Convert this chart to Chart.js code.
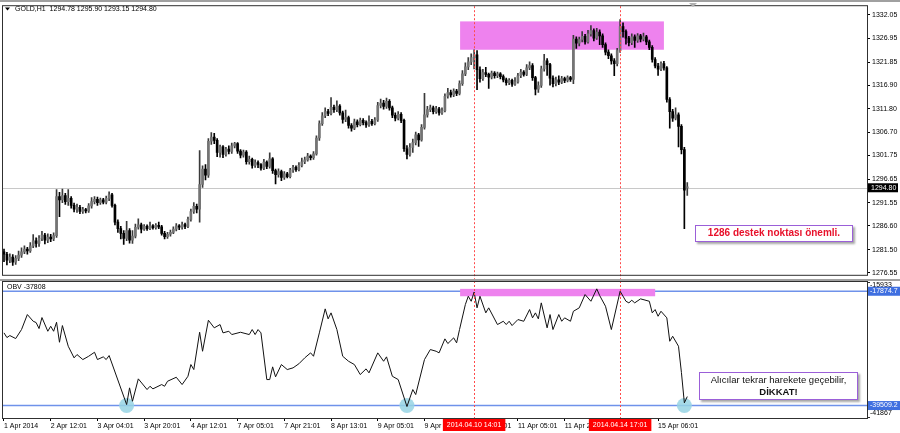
<!DOCTYPE html>
<html>
<head>
<meta charset="utf-8">
<script src="https://cdn.jsdelivr.net/npm/chart.js@4.4.1/dist/chart.umd.min.js"></script>
<style>
html, body { margin: 0; padding: 0; background: #fff; }
#wrap { position: relative; width: 900px; height: 433px; overflow: hidden; font-family: "Liberation Sans", Arial, sans-serif; }
#cTop { position: absolute; left: 0; top: 0; }
#cObv { position: absolute; left: 0; top: 281px; }
.note { position: absolute; box-sizing: border-box; background: #fff; border: 1.5px solid #9b5fd8; box-shadow: 2px 2px 2px rgba(0,0,0,0.35); text-align: center; }
#note1 { left: 695px; top: 225px; width: 158px; height: 17px; color: #e8102a; font-weight: bold; font-size: 10px; line-height: 14px; }
#note2 { left: 699px; top: 372px; width: 159px; height: 28px; color: #111; font-size: 9.5px; line-height: 11.5px; padding-top: 1px; }
#note2 b { font-size: 9.5px; }
</style>
</head>
<body>
<div id="wrap">
  <canvas id="cTop" width="900" height="281"></canvas>
  <canvas id="cObv" width="900" height="152"></canvas>
  <div class="note" id="note1">1286 destek noktası önemli.</div>
  <div class="note" id="note2">Alıcılar tekrar harekete geçebilir,<br><b>DİKKAT!</b></div>
</div>
<script>
// GOLD H1, 1 Apr 2014 - 15 Apr 2014
const opens = [
1281.0,1280.5,1279.2,1279.9,1278.8,1279.6,1280.3,1281.0,1281.6,1281.2,
1282.3,1283.4,1282.8,1283.9,1284.6,1283.5,1284.2,1283.8,1284.5,1292.9,
1292.2,1293.1,1291.8,1292.5,1291.0,1290.2,1290.6,1289.7,1290.1,1289.8,
1290.9,1291.8,1292.3,1291.6,1292.2,1291.7,1292.5,1293.3,1291.0,1287.4,
1286.0,1285.0,1283.9,1285.6,1283.5,1284.4,1286.3,1286.8,1285.9,1286.5,
1286.0,1286.6,1286.2,1286.7,1286.4,1285.0,1284.3,1284.8,1285.2,1285.9,
1286.6,1286.3,1286.9,1286.5,1288.0,1289.7,1290.8,1290.2,1295.5,1298.8,
1297.5,1304.8,1305.7,1305.0,1302.4,1303.6,1302.0,1303.1,1302.6,1303.8,
1304.3,1302.7,1301.8,1302.5,1300.4,1300.9,1299.6,1300.2,1299.8,1299.0,
1300.3,1299.4,1301.0,1298.5,1297.6,1298.3,1297.0,1297.8,1297.2,1298.6,
1299.2,1298.7,1299.6,1300.4,1300.8,1301.6,1301.3,1302.1,1305.5,1308.6,
1310.3,1311.2,1310.8,1312.1,1311.6,1312.4,1310.9,1309.5,1309.9,1308.2,
1307.6,1309.0,1308.4,1309.3,1308.8,1308.3,1309.1,1308.6,1309.4,1312.5,
1313.0,1312.3,1313.4,1312.0,1310.4,1309.8,1310.6,1309.3,1303.2,1302.0,
1303.5,1304.5,1306.2,1305.1,1307.8,1310.5,1311.6,1312.0,1311.2,1311.8,
1310.9,1311.4,1314.5,1315.3,1314.8,1315.6,1315.1,1317.2,1319.3,1320.8,
1321.9,1322.8,1323.4,1320.2,1318.3,1319.6,1319.2,1318.6,1319.5,1318.9,
1319.3,1318.7,1318.0,1317.4,1317.9,1317.1,1317.6,1318.9,1319.7,1319.2,
1320.6,1321.1,1318.5,1316.0,1316.8,1320.4,1322.1,1321.3,1318.4,1317.2,
1318.0,1317.5,1318.3,1317.9,1318.5,1318.1,1326.8,1325.9,1326.7,1327.4,
1326.2,1327.9,1328.6,1327.0,1328.3,1327.5,1325.6,1324.0,1323.2,1322.1,
1321.5,1324.3,1329.5,1328.4,1327.0,1326.0,1327.3,1326.5,1327.5,1326.8,
1327.3,1326.2,1325.0,1322.4,1321.0,1320.3,1321.5,1320.6,1313.8,1311.2,
1309.8,1310.5,1308.0,1303.0,1294.78
];
const highs = [
1281.6,1280.9,1280.6,1280.4,1280.2,1281.2,1281.9,1282.3,1282.0,1283.0,
1284.7,1284.0,1284.5,1285.4,1285.0,1284.9,1284.8,1285.1,1294.4,1293.8,
1294.5,1293.6,1294.4,1292.9,1291.5,1291.3,1291.0,1290.6,1290.4,1291.4,
1292.7,1292.9,1292.8,1292.6,1292.5,1293.0,1293.9,1293.6,1291.3,1287.9,
1286.5,1285.6,1287.6,1286.0,1285.6,1287.0,1288.1,1287.2,1286.9,1286.8,
1287.4,1286.9,1287.1,1287.4,1286.7,1285.4,1285.2,1285.7,1286.4,1287.1,
1286.9,1287.4,1287.2,1288.5,1290.2,1291.6,1291.3,1302.8,1299.5,1299.8,
1305.4,1306.7,1306.5,1305.4,1304.0,1303.9,1303.5,1303.8,1304.4,1304.6,
1304.5,1303.0,1302.9,1302.8,1301.6,1301.2,1300.8,1300.6,1300.0,1300.9,
1300.6,1302.3,1301.3,1298.8,1298.9,1298.6,1298.3,1298.1,1299.0,1299.6,
1299.5,1300.2,1301.2,1301.4,1302.2,1301.9,1302.6,1306.0,1309.2,1311.0,
1312.0,1311.7,1314.2,1312.6,1313.5,1312.7,1311.3,1311.5,1310.2,1308.6,
1309.6,1309.4,1309.8,1309.7,1309.2,1310.3,1309.5,1309.9,1313.2,1313.9,
1313.6,1314.1,1313.8,1312.4,1310.9,1311.2,1311.0,1309.6,1303.9,1304.3,
1305.3,1306.8,1306.5,1308.4,1315.1,1312.3,1312.6,1312.4,1312.3,1312.1,
1312.0,1315.0,1316.2,1315.8,1316.1,1316.0,1317.8,1320.0,1321.7,1322.8,
1323.6,1324.5,1324.3,1320.8,1320.3,1320.7,1319.5,1319.9,1319.8,1319.7,
1319.6,1319.1,1318.4,1318.3,1318.2,1318.5,1319.4,1320.3,1320.0,1321.3,
1321.9,1321.5,1318.8,1317.6,1321.0,1323.5,1322.6,1321.6,1318.9,1318.6,
1318.9,1318.8,1318.6,1318.9,1318.8,1327.6,1327.3,1327.2,1328.4,1327.8,
1328.7,1329.7,1329.0,1329.1,1328.8,1327.9,1326.0,1324.5,1323.6,1322.6,
1324.8,1331.0,1330.3,1328.8,1327.4,1327.9,1327.7,1328.0,1327.8,1328.1,
1327.6,1326.6,1325.4,1322.8,1321.6,1321.9,1322.0,1320.9,1314.2,1311.7,
1312.0,1310.9,1308.4,1303.5,1295.90
];
const lows = [
1278.9,1278.2,1278.7,1278.1,1278.3,1279.1,1279.8,1280.6,1280.5,1280.9,
1281.9,1282.0,1282.2,1283.4,1282.7,1283.0,1283.2,1283.4,1284.1,1288.6,
1291.6,1291.2,1291.0,1290.4,1289.6,1289.5,1289.2,1289.3,1289.4,1289.5,
1290.4,1291.3,1291.0,1291.2,1291.3,1291.3,1292.0,1290.6,1286.8,1285.2,
1283.8,1282.6,1283.4,1282.9,1282.8,1284.0,1285.9,1285.1,1285.6,1285.6,
1285.8,1285.9,1285.9,1286.0,1284.6,1283.8,1283.9,1284.4,1284.9,1285.5,
1285.8,1285.9,1286.0,1286.2,1287.6,1289.3,1289.4,1287.4,1294.9,1296.5,
1297.0,1304.1,1304.3,1301.5,1301.4,1301.3,1301.6,1302.1,1302.2,1303.4,
1302.2,1301.2,1301.4,1299.9,1299.9,1299.0,1299.2,1299.1,1298.6,1298.7,
1298.9,1299.0,1297.9,1295.6,1297.1,1296.3,1296.6,1296.9,1296.9,1298.1,
1298.3,1298.4,1299.3,1300.0,1300.5,1300.8,1300.9,1301.8,1305.0,1308.2,
1309.9,1310.3,1310.5,1311.0,1311.2,1310.4,1308.7,1309.0,1307.6,1307.0,
1307.3,1307.9,1308.1,1308.3,1307.8,1308.0,1308.2,1308.3,1309.1,1312.0,
1311.7,1311.9,1311.5,1309.9,1309.2,1309.4,1308.8,1302.6,1301.0,1301.6,
1302.4,1304.0,1303.7,1304.8,1307.4,1310.0,1311.2,1310.7,1310.8,1310.4,
1310.6,1311.1,1314.1,1314.3,1314.4,1314.6,1314.8,1316.8,1318.9,1320.2,
1321.3,1320.4,1315.9,1317.5,1317.9,1318.7,1316.2,1318.2,1318.4,1318.5,
1318.2,1317.6,1316.9,1317.0,1316.6,1316.8,1317.3,1318.5,1318.8,1318.9,
1320.2,1317.9,1314.8,1315.3,1316.4,1319.9,1319.0,1316.9,1316.5,1316.7,
1317.0,1317.2,1317.4,1317.6,1317.7,1317.2,1324.8,1325.3,1326.2,1325.7,
1325.9,1327.4,1326.4,1326.7,1325.6,1325.0,1323.4,1322.6,1321.4,1318.9,
1321.0,1323.9,1327.2,1325.7,1325.3,1325.6,1325.0,1326.1,1326.2,1326.4,
1325.6,1324.5,1321.8,1320.6,1319.0,1320.0,1320.1,1313.2,1307.6,1309.1,
1309.4,1303.6,1302.1,1286.0,1293.15
];
const closes = [
1280.5,1279.2,1279.9,1278.8,1279.6,1280.3,1281.0,1281.6,1281.2,1282.3,
1283.4,1282.8,1283.9,1284.6,1283.5,1284.2,1283.8,1284.5,1292.9,1292.2,
1293.1,1291.8,1292.5,1291.0,1290.2,1290.6,1289.7,1290.1,1289.8,1290.9,
1291.8,1292.3,1291.6,1292.2,1291.7,1292.5,1293.3,1291.0,1287.4,1286.0,
1285.0,1283.9,1285.6,1283.5,1284.4,1286.3,1286.8,1285.9,1286.5,1286.0,
1286.6,1286.2,1286.7,1286.4,1285.0,1284.3,1284.8,1285.2,1285.9,1286.6,
1286.3,1286.9,1286.5,1288.0,1289.7,1290.8,1290.2,1295.5,1298.8,1297.5,
1304.8,1305.7,1305.0,1302.4,1303.6,1302.0,1303.1,1302.6,1303.8,1304.3,
1302.7,1301.8,1302.5,1300.4,1300.9,1299.6,1300.2,1299.8,1299.0,1300.3,
1299.4,1301.0,1298.5,1297.6,1298.3,1297.0,1297.8,1297.2,1298.6,1299.2,
1298.7,1299.6,1300.4,1300.8,1301.6,1301.3,1302.1,1305.5,1308.6,1310.3,
1311.2,1310.8,1312.1,1311.6,1312.4,1310.9,1309.5,1309.9,1308.2,1307.6,
1309.0,1308.4,1309.3,1308.8,1308.3,1309.1,1308.6,1309.4,1312.5,1313.0,
1312.3,1313.4,1312.0,1310.4,1309.8,1310.6,1309.3,1303.2,1302.0,1303.5,
1304.5,1306.2,1305.1,1307.8,1310.5,1311.6,1312.0,1311.2,1311.8,1310.9,
1311.4,1314.5,1315.3,1314.8,1315.6,1315.1,1317.2,1319.3,1320.8,1321.9,
1322.8,1323.4,1320.2,1318.3,1319.6,1319.2,1318.6,1319.5,1318.9,1319.3,
1318.7,1318.0,1317.4,1317.9,1317.1,1317.6,1318.9,1319.7,1319.2,1320.6,
1321.1,1318.5,1316.0,1316.8,1320.4,1322.1,1321.3,1318.4,1317.2,1318.0,
1317.5,1318.3,1317.9,1318.5,1318.1,1326.8,1325.9,1326.7,1327.4,1326.2,
1327.9,1328.6,1327.0,1328.3,1327.5,1325.6,1324.0,1323.2,1322.1,1321.5,
1324.3,1329.5,1328.4,1327.0,1326.0,1327.3,1326.5,1327.5,1326.8,1327.3,
1326.2,1325.0,1322.4,1321.0,1320.3,1321.5,1320.6,1313.8,1311.2,1309.8,
1310.5,1308.0,1303.0,1294.3,1294.80
];

// OBV: vertices of the line (bar index, value)
const obvBars = [0,1,2,4,6,8,10,11,12,13,15,16,17,18,19,20,22,24,25,27,29,31,32,34,35,36,
42,43,44,46,49,50,51,54,55,56,59,61,63,64,65,67,68,70,72,74,75,77,78,81,84,85,86,87,88,
90,91,92,93,95,97,99,101,103,105,106,108,110,111,112,114,116,118,120,122,124,125,128,130,131,133,135,
138,140,141,144,146,148,149,151,152,154,155,156,158,159,160,161,162,163,165,166,169,171,172,173,174,
176,178,180,181,182,183,184,186,187,188,190,191,192,194,195,197,199,201,203,204,206,208,211,213,214,
215,216,218,221,222,223,224,225,227,228,229,231,232,233,234];
const obvValues = [-25750,-26640,-26261,-26829,-25125,-22286,-23554,-23800,-24936,-22853,-25447,-24500,-25447,-23743,-27529,-24368,-28286,-30482,-29857,-30804,-30179,-29422,-30804,-30293,-30804,-30047,
-39323,-36161,-38698,-34457,-36483,-35858,-36350,-35537,-35858,-34912,-34155,-35537,-33965,-31750,-32697,-25636,-29233,-23364,-24803,-24178,-25750,-25447,-26071,-25636,-26071,-25125,-26071,-25125,-25750,
-34590,-34590,-32186,-34079,-31750,-32697,-32375,-31600,-30482,-29536,-30179,-25750,-21207,-23100,-21964,-25125,-30179,-31126,-31750,-33644,-32565,-33322,-29536,-31126,-30293,-33965,-34590,
-39700,-36483,-37430,-30804,-28911,-29233,-29536,-26886,-27775,-26696,-27643,-25125,-20392,-18821,-19768,-18026,-21017,-18821,-21964,-21017,-24178,-23554,-24178,-23554,-24368,
-23232,-23554,-21339,-22910,-21964,-23100,-20071,-24803,-22286,-25125,-22286,-23554,-22910,-23554,-21661,-21017,-18500,-19768,-17420,-18689,-20715,-25125,-17875,-19768,-20071,
-19579,-20071,-19314,-19768,-21964,-21339,-22607,-21661,-22910,-27340,-26393,-28286,-33265,-39000,-37808];

const priceTicks = [1276.55,1281.50,1286.60,1291.55,1296.65,1301.75,1306.70,1311.80,1316.90,1321.85,1326.95,1332.05];
const tickBars = [0,16,32,48,64,80,96,112,128,144,160,176,192,208,224];
const tickLabels = ['1 Apr 2014','2 Apr 12:01','3 Apr 04:01','3 Apr 20:01','4 Apr 12:01','7 Apr 05:01','7 Apr 21:01',
  '8 Apr 13:01','9 Apr 05:01','9 Apr 21:01','10 Apr 13:01','11 Apr 05:01','11 Apr 21:01','14 Apr 14:01','15 Apr 06:01'];
const markerBars = [161, 211];
const markerLabels = ['2014.04.10 14:01', '2014.04.14 17:01'];
const zoneBars = [156.2, 226.0];
const zonePrices = [1324.5, 1330.6];
const obvZoneBars = [156.2, 223.0];
const obvZoneValues = [-18821, -17420];
const obvLevels = [-17874.7, -39509.2];
const obvScaleRange = [-41867, -15933];
const circleBars = [42, 138, 233];
const lastPrice = 1294.80;
const titleText = 'GOLD,H1  1294.78 1295.90 1293.15 1294.80';
const obvTitle = 'OBV -37808';

const FONT = '"Liberation Sans", Arial, sans-serif';
Chart.defaults.font.family = FONT;
Chart.defaults.font.size = 7;
Chart.defaults.color = '#000';

const X_MIN = -0.342, X_MAX = 295.55;

function vline(ctx, x, y0, y1) {
    const px = Math.round(x) + 0.5;
    ctx.beginPath(); ctx.moveTo(px, y0); ctx.lineTo(px, y1); ctx.stroke();
}

function drawMarkers(chart, y0, y1) {
    const ctx = chart.ctx, x = chart.scales.x;
    ctx.save();
    ctx.strokeStyle = '#ff4a4a';
    ctx.lineWidth = 1;
    ctx.setLineDash([2, 2]);
    markerBars.forEach(b => vline(ctx, x.getPixelForValue(b), y0, y1));
    ctx.restore();
}

// candles: wick = low..high, body = open..close
const wickData = opens.map((o, i) => ({ x: i, y: [lows[i], highs[i]] }));
const bodyData = opens.map((o, i) => ({ x: i, y: [o, closes[i]] }));
const bodyColors = opens.map((o, i) => closes[i] >= o ? '#747474' : '#000000');
const wickColors = opens.map((o, i) => closes[i] >= o ? '#3a3a3a' : '#000000');

const topDecor = {
    id: 'topDecor',
    beforeDatasetsDraw(chart) {
        const { ctx, chartArea: a, scales: { x, y } } = chart;
        ctx.save();
        const x1 = x.getPixelForValue(zoneBars[0]), x2 = x.getPixelForValue(zoneBars[1]);
        const y1 = y.getPixelForValue(zonePrices[1]), y2 = y.getPixelForValue(zonePrices[0]);
        ctx.fillStyle = '#ee82ee';
        ctx.fillRect(x1, y1, x2 - x1, y2 - y1);
        const yl = Math.round(y.getPixelForValue(lastPrice)) + 0.5;
        ctx.strokeStyle = '#c8c8c8';
        ctx.lineWidth = 1;
        ctx.beginPath(); ctx.moveTo(a.left, yl); ctx.lineTo(a.right, yl); ctx.stroke();
        ctx.restore();
    },
    afterDatasetsDraw(chart) {
        drawMarkers(chart, chart.chartArea.top, chart.height);
    },
    afterDraw(chart) {
        const { ctx, chartArea: a, scales: { y } } = chart;
        ctx.save();
        // window frame
        ctx.fillStyle = '#a0a0a0';
        ctx.fillRect(0, 0, 900, 2);
        ctx.fillRect(0, 279, 900, 2);
        ctx.strokeStyle = '#303030';
        ctx.lineWidth = 1;
        ctx.strokeRect(a.left - 0.5, a.top - 0.5, a.right - a.left + 1, a.bottom - a.top + 1);
        // title
        ctx.fillStyle = '#000';
        ctx.beginPath(); ctx.moveTo(5, 7.5); ctx.lineTo(10, 7.5); ctx.lineTo(7.5, 10.5); ctx.closePath(); ctx.fill();
        ctx.font = '7px ' + FONT;
        ctx.textBaseline = 'middle';
        ctx.fillText(titleText, 15, 9.5);
        // shift marker
        ctx.fillStyle = '#b0b0b0';
        ctx.beginPath(); ctx.moveTo(689, 3); ctx.lineTo(697, 3); ctx.lineTo(693, 7); ctx.closePath(); ctx.fill();
        // last price box
        const yp = y.getPixelForValue(lastPrice);
        ctx.fillStyle = '#000';
        ctx.fillRect(a.right + 1, yp - 4.5, 30, 9);
        ctx.fillStyle = '#fff';
        ctx.fillText(lastPrice.toFixed(2), a.right + 4, yp);
        ctx.restore();
    }
};

new Chart(document.getElementById('cTop'), {
    type: 'bar',
    data: {
        datasets: [
            { data: wickData, backgroundColor: wickColors, barThickness: 1, grouped: false, order: 2 },
            { data: bodyData, backgroundColor: bodyColors, barThickness: 2, grouped: false, minBarLength: 1, order: 1 }
        ]
    },
    options: {
        responsive: false,
        devicePixelRatio: 1,
        animation: false,
        events: [],
        layout: { padding: { left: 3, top: 3, right: 0, bottom: 2 } },
        scales: {
            x: { type: 'linear', min: X_MIN, max: X_MAX, offset: false, display: false },
            y: {
                position: 'right',
                min: 1276.07, max: 1333.87,
                beginAtZero: false,
                afterBuildTicks: s => { s.ticks = priceTicks.map(v => ({ value: v })); },
                afterFit: s => { s.width = 33; },
                ticks: { padding: 2, callback: v => v.toFixed(2), font: { size: 7 } },
                grid: { drawOnChartArea: false, tickLength: 3, color: '#000' },
                border: { display: false }
            }
        },
        plugins: { legend: { display: false }, tooltip: { enabled: false } }
    },
    plugins: [topDecor]
});

const obvData = obvBars.map((b, i) => ({ x: b, y: obvValues[i] }));

const obvDecor = {
    id: 'obvDecor',
    beforeDatasetsDraw(chart) {
        const { ctx, chartArea: a, scales: { x, y } } = chart;
        ctx.save();
        ctx.strokeStyle = '#6f92ea';
        ctx.lineWidth = 1.5;
        obvLevels.forEach(v => {
            const py = y.getPixelForValue(v);
            ctx.beginPath(); ctx.moveTo(a.left, py); ctx.lineTo(a.right, py); ctx.stroke();
        });
        const x1 = x.getPixelForValue(obvZoneBars[0]), x2 = x.getPixelForValue(obvZoneBars[1]);
        const y1 = y.getPixelForValue(obvZoneValues[1]), y2 = y.getPixelForValue(obvZoneValues[0]);
        ctx.fillStyle = '#ee82ee';
        ctx.fillRect(x1, y1, x2 - x1, y2 - y1);
        ctx.fillStyle = 'rgba(150,212,228,0.85)';
        circleBars.forEach(b => {
            ctx.beginPath();
            ctx.arc(x.getPixelForValue(b), y.getPixelForValue(obvLevels[1]), 7.5, 0, Math.PI * 2);
            ctx.fill();
        });
        ctx.restore();
    },
    afterDatasetsDraw(chart) {
        drawMarkers(chart, 0, chart.chartArea.bottom + 2);
    },
    afterDraw(chart) {
        const { ctx, chartArea: a, scales: { x, y } } = chart;
        ctx.save();
        ctx.strokeStyle = '#303030';
        ctx.lineWidth = 1;
        ctx.strokeRect(a.left - 0.5, a.top + 0.5, a.right - a.left + 1, a.bottom - a.top);
        ctx.font = '7px ' + FONT;
        ctx.textBaseline = 'middle';
        ctx.fillStyle = '#000';
        ctx.fillText(obvTitle, 7, 6.5);
        // scale labels
        ctx.fillText(String(obvScaleRange[1]), a.right + 3, 4);
        ctx.fillText(String(obvScaleRange[0]), a.right + 3, a.bottom - 5);
        ctx.beginPath();
        ctx.moveTo(a.right, 1.5); ctx.lineTo(a.right + 3, 1.5);
        ctx.moveTo(a.right, a.bottom - 0.5); ctx.lineTo(a.right + 3, a.bottom - 0.5);
        ctx.stroke();
        obvLevels.forEach(v => {
            const py = y.getPixelForValue(v);
            ctx.fillStyle = '#3f6fe0';
            ctx.fillRect(a.right + 1, py - 4.5, 32, 9);
            ctx.fillStyle = '#fff';
            ctx.fillText(v.toFixed(1), a.right + 3, py);
        });
        // marker time boxes
        markerBars.forEach((b, i) => {
            const px = x.getPixelForValue(b);
            const w = ctx.measureText(markerLabels[i]).width + 8;
            ctx.fillStyle = '#ff0000';
            ctx.fillRect(px - w / 2, a.bottom + 1, w, 12);
            ctx.fillStyle = '#fff';
            ctx.fillText(markerLabels[i], px - w / 2 + 4, a.bottom + 7.5);
        });
        ctx.restore();
    }
};

new Chart(document.getElementById('cObv'), {
    type: 'line',
    data: {
        datasets: [{ data: obvData, borderColor: '#111', borderWidth: 1, pointRadius: 0, tension: 0, fill: false }]
    },
    options: {
        responsive: false,
        devicePixelRatio: 1,
        animation: false,
        events: [],
        layout: { padding: { left: 3, top: 0, right: 0, bottom: 0 } },
        scales: {
            x: {
                type: 'linear', min: X_MIN, max: X_MAX, offset: false,
                afterBuildTicks: s => { s.ticks = tickBars.map(v => ({ value: v })); },
                afterFit: s => { s.height = 15; },
                ticks: { align: 'start', padding: 1, maxRotation: 0, minRotation: 0, autoSkip: false,
                    callback: (v, i) => tickLabels[i], font: { size: 7 } },
                grid: { drawOnChartArea: false, tickLength: 3, color: '#000' },
                border: { display: false }
            },
            y: {
                position: 'right',
                min: obvScaleRange[0], max: obvScaleRange[1],
                afterFit: s => { s.width = 33; },
                ticks: { display: false },
                grid: { display: false },
                border: { display: false }
            }
        },
        plugins: { legend: { display: false }, tooltip: { enabled: false } }
    },
    plugins: [obvDecor]
});
</script>
</body>
</html>
